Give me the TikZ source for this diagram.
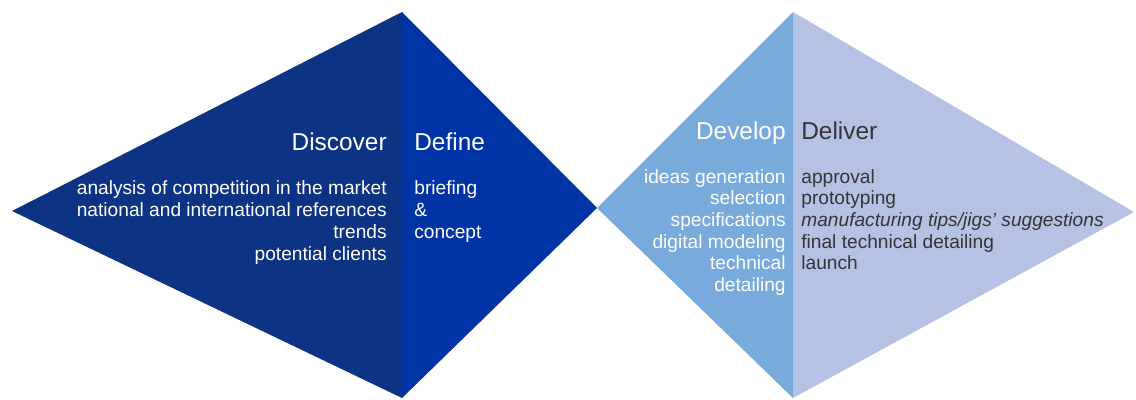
\documentclass[tikz,border=0pt]{standalone}
\usepackage{fontspec}
\setmainfont{Liberation Sans}
\usepackage{tikz}

\definecolor{discovercol}{HTML}{0C3384}
\definecolor{definecol}{HTML}{0034A6}
\definecolor{developcol}{HTML}{78AADC}
\definecolor{delivercol}{HTML}{B6C2E3}
\definecolor{darktext}{HTML}{353535}

\begin{document}
\begin{tikzpicture}
        [%%%%%%%%%%%%%%%%%%%%%%%%%%%%%%
        x=0.02cm, y=-0.02cm,
        title/.style={inner sep=0pt, font=\fontsize{13.9pt}{16pt}\selectfont},
        body/.style={inner sep=0pt, font=\fontsize{10.9pt}{12.3pt}\selectfont},
        ]%%%%%%%%%%%%%%%%%%%%%%%%%%%%%%
        \useasboundingbox (0,0) rectangle (1136,399);
        % Diamonds
        % LEFT DIAMOND
        \fill[discovercol] (12,211) -- (402,12) -- (402,398) -- cycle;
        \fill[definecol] (402,12) -- (597,208) -- (402,398) -- cycle;
        % RIGHT DIAMOND
        \fill[developcol] (597,208) -- (793,12) -- (793,398) -- cycle;
        \fill[delivercol] (793,12) -- (1134,212) -- (793,398) -- cycle;
        % Text
        \node[title, anchor=base east, text=white] (discover) at (387,150) {Discover};
        \node[title, anchor=base west, text=white] (define) at (414,150) {Define};
        \node[body, anchor=north east, align=right, text=white, font=\fontsize{10.9pt}{12.5pt}\selectfont] (discoverlist) at (387,180)
          {analysis of competition in the market\\national and international references\\trends\\potential clients};
        \node[body, anchor=north west, align=left, text=white, font=\fontsize{10.9pt}{12.5pt}\selectfont] (definelist) at (414,180)
          {briefing\\\&\\concept};
        \node[title, anchor=base east, text=white] (develop) at (786,139) {Develop};
        \node[title, anchor=base west, text=darktext] (deliver) at (801,139) {Deliver};
        \node[body, anchor=north east, align=right, text=white] (developlist) at (786,169)
          {ideas generation\\selection\\specifications\\digital modeling\\technical\\detailing};
        \node[body, anchor=north west, align=left, text=darktext] (deliverlist) at (801,169)
          {approval\\prototyping\\\textit{manufacturing tips/jigs' suggestions}\\final technical detailing\\launch};
      \end{tikzpicture}
\end{document}
